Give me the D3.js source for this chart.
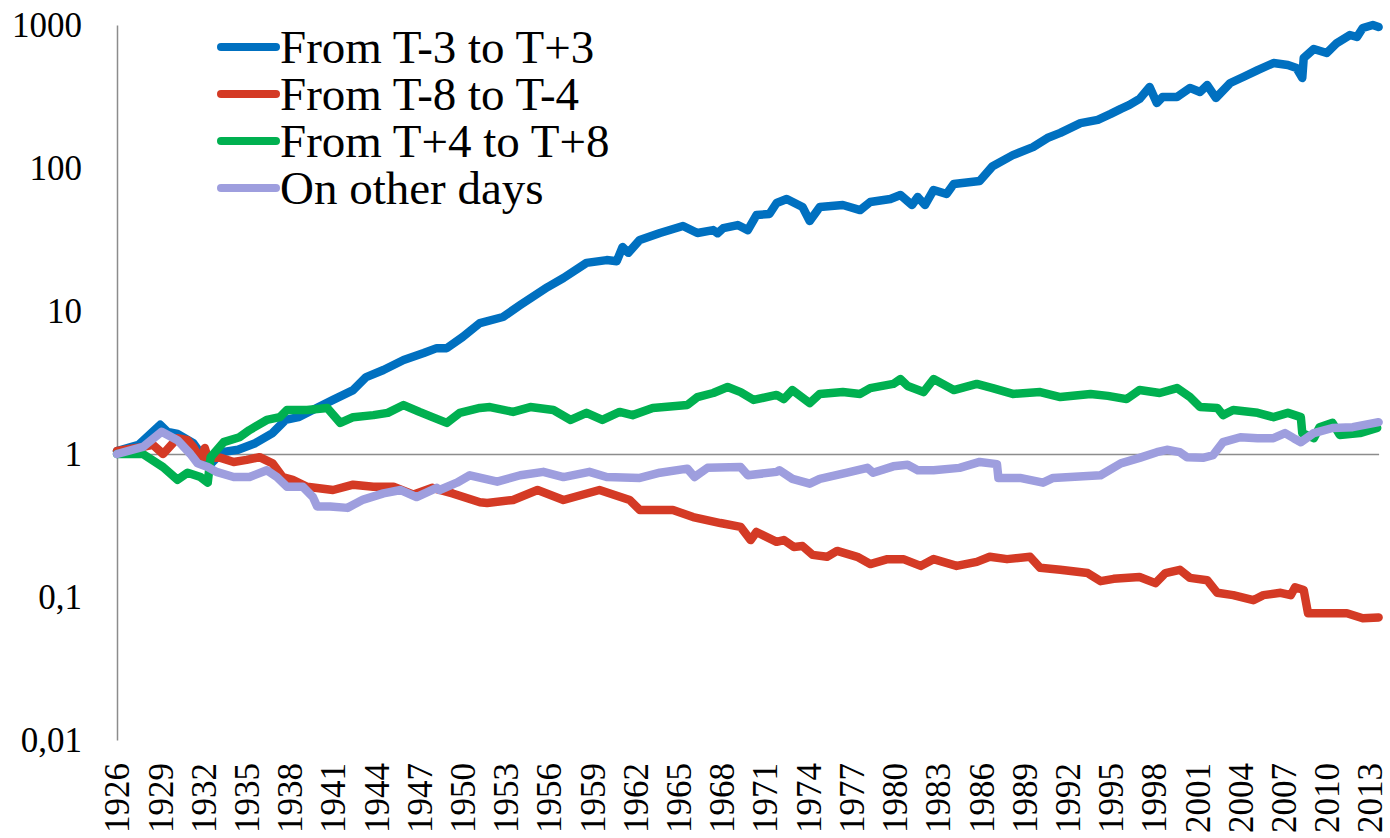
<!DOCTYPE html>
<html>
<head>
<meta charset="utf-8">
<script src="https://cdn.jsdelivr.net/npm/d3@7"></script>
<style>
  body { margin: 0; background: #fff; }
  svg { font-family: "Liberation Serif", "Times New Roman", serif; }
</style>
</head>
<body>
<div id="chart"></div>
<script>
// values (year, cumulative value, log scale)
const seriesNames = ["From T-3 to T+3", "From T-8 to T-4", "From T+4 to T+8", "On other days"];
const seriesColors = ["#0070C0", "#D43A25", "#00B050", "#9E9EDE"];

const fromTm3 = [
  [1926.0, 1.05], [1927.5, 1.16], [1929.0, 1.6], [1929.5, 1.43], [1930.2, 1.38], [1931.3, 1.19],
  [1932.0, 0.95], [1932.5, 0.85], [1933.3, 1.03], [1934.4, 1.07], [1935.6, 1.19], [1936.8, 1.40],
  [1937.7, 1.73], [1938.6, 1.81], [1940.0, 2.13], [1941.0, 2.39], [1942.4, 2.80], [1943.3, 3.45],
  [1944.5, 3.87], [1945.9, 4.54], [1947.3, 5.08], [1948.2, 5.5], [1948.9, 5.5], [1950.0, 6.58],
  [1951.2, 8.24], [1952.8, 9.08], [1954.0, 11.0], [1955.9, 14.7], [1957.0, 17.0], [1958.6, 21.7],
  [1960.0, 22.7], [1960.7, 22.3], [1961.1, 28.0], [1961.5, 25.5], [1962.3, 31.4], [1963.7, 35.1],
  [1965.3, 39.3], [1966.3, 35.1], [1967.4, 36.8], [1967.7, 35.0], [1968.1, 38.0], [1969.1, 39.9],
  [1969.8, 36.8], [1970.4, 46.9], [1971.3, 47.7], [1971.8, 56.9], [1972.5, 60.7], [1973.6, 53.3],
  [1974.1, 42.6], [1974.8, 53.3], [1976.4, 55.1], [1977.6, 50.8], [1978.3, 57.8], [1979.7, 60.7],
  [1980.4, 64.7], [1981.2, 55.1], [1981.6, 62.7], [1982.1, 55.1], [1982.7, 70.2], [1983.6, 65.8],
  [1984.1, 77.3], [1985.9, 81.1], [1986.8, 103], [1988.2, 123], [1989.6, 140], [1990.6, 162],
  [1991.5, 176], [1992.9, 206], [1994.1, 217], [1995.0, 239], [1995.7, 259], [1996.3, 276],
  [1997.0, 304], [1997.7, 368], [1998.2, 285], [1998.6, 314], [1999.6, 314], [2000.5, 363],
  [2001.2, 340], [2001.7, 380], [2002.3, 309], [2003.3, 393], [2004.2, 433], [2005.2, 484],
  [2006.3, 542], [2007.3, 525], [2007.9, 500], [2008.3, 426], [2008.4, 588], [2009.1, 679],
  [2010.0, 637], [2010.7, 748], [2011.6, 851], [2012.1, 824], [2012.5, 953], [2013.2, 1000],
  [2013.6, 968]
];

const fromTm8 = [
  [1926.0, 1.05], [1927.8, 1.12], [1928.5, 1.16], [1929.2, 1.0], [1930.2, 1.29], [1930.9, 1.25],
  [1931.3, 1.12], [1931.8, 0.91], [1932.1, 1.10], [1932.3, 0.94], [1933.2, 0.94], [1934.1, 0.88],
  [1935.0, 0.91], [1935.9, 0.95], [1936.8, 0.86], [1937.5, 0.69], [1938.2, 0.66], [1939.2, 0.59],
  [1941.0, 0.56], [1942.4, 0.61], [1943.8, 0.59], [1945.2, 0.59], [1946.6, 0.52], [1947.9, 0.58],
  [1949.3, 0.53], [1951.2, 0.46], [1951.7, 0.454], [1953.5, 0.477], [1955.2, 0.56], [1957.0, 0.477],
  [1959.5, 0.56], [1961.6, 0.477], [1962.3, 0.406], [1964.6, 0.406], [1966.0, 0.362], [1967.9, 0.329],
  [1969.3, 0.309], [1970.0, 0.25], [1970.4, 0.285], [1971.8, 0.243], [1972.3, 0.25], [1973.0, 0.224],
  [1973.6, 0.227], [1974.3, 0.197], [1975.3, 0.191], [1976.0, 0.21], [1977.4, 0.191], [1978.3, 0.17],
  [1979.5, 0.184], [1980.6, 0.184], [1981.8, 0.165], [1982.7, 0.184], [1984.3, 0.165], [1985.7, 0.176],
  [1986.6, 0.191], [1987.8, 0.184], [1989.4, 0.191], [1990.1, 0.16], [1991.5, 0.155], [1993.4, 0.147],
  [1994.3, 0.129], [1995.2, 0.134], [1997.0, 0.138], [1998.1, 0.125], [1998.8, 0.147], [1999.8, 0.155],
  [2000.5, 0.136], [2001.7, 0.131], [2002.4, 0.107], [2003.5, 0.103], [2004.9, 0.095], [2005.6, 0.103],
  [2006.8, 0.107], [2007.5, 0.103], [2007.8, 0.117], [2008.4, 0.112], [2008.7, 0.077], [2009.5, 0.077],
  [2011.4, 0.077], [2012.5, 0.071], [2013.6, 0.072]
];

const fromTp4 = [
  [1926.0, 1.0], [1927.8, 1.0], [1929.2, 0.81], [1930.2, 0.66], [1930.9, 0.74], [1931.8, 0.69],
  [1932.3, 0.63], [1932.5, 0.95], [1933.4, 1.21], [1934.5, 1.31], [1935.2, 1.47], [1936.4, 1.73],
  [1937.3, 1.81], [1937.8, 2.03], [1939.2, 2.03], [1940.6, 2.10], [1941.5, 1.65], [1942.4, 1.81],
  [1943.8, 1.87], [1944.8, 1.94], [1945.9, 2.20], [1947.0, 1.97], [1947.9, 1.81], [1948.9, 1.65],
  [1949.8, 1.94], [1951.2, 2.10], [1951.9, 2.13], [1953.5, 1.97], [1954.7, 2.13], [1956.3, 2.03],
  [1957.5, 1.73], [1958.6, 1.94], [1959.7, 1.73], [1960.9, 1.97], [1961.8, 1.87], [1963.2, 2.10],
  [1965.6, 2.20], [1966.3, 2.50], [1967.4, 2.67], [1968.4, 2.94], [1969.3, 2.71], [1970.2, 2.39],
  [1971.8, 2.59], [1972.3, 2.42], [1972.9, 2.80], [1974.1, 2.27], [1974.8, 2.63], [1976.4, 2.71],
  [1977.6, 2.63], [1978.3, 2.89], [1979.9, 3.09], [1980.4, 3.34], [1980.9, 2.99], [1982.0, 2.71],
  [1982.7, 3.34], [1984.1, 2.80], [1985.7, 3.09], [1986.8, 2.89], [1988.2, 2.63], [1990.1, 2.71],
  [1991.5, 2.50], [1993.6, 2.63], [1994.8, 2.55], [1996.1, 2.42], [1997.0, 2.80], [1998.4, 2.67],
  [1999.6, 2.89], [2000.5, 2.50], [2001.2, 2.13], [2002.4, 2.10], [2002.8, 1.87], [2003.5, 2.03],
  [2005.2, 1.94], [2006.3, 1.81], [2007.3, 1.94], [2008.2, 1.81], [2008.3, 1.40], [2009.1, 1.29],
  [2009.5, 1.54], [2010.4, 1.65], [2010.9, 1.36], [2012.3, 1.40], [2013.5, 1.52]
];

const otherDays = [
  [1926.0, 1.0], [1927.8, 1.12], [1929.1, 1.43], [1930.2, 1.25], [1931.1, 1.0], [1931.6, 0.86],
  [1932.3, 0.81], [1932.9, 0.75], [1934.1, 0.69], [1935.2, 0.69], [1936.4, 0.77], [1937.1, 0.69],
  [1937.8, 0.59], [1938.9, 0.59], [1939.6, 0.50], [1939.9, 0.43], [1940.8, 0.43], [1942.0, 0.42],
  [1943.1, 0.48], [1944.5, 0.53], [1945.7, 0.56], [1946.8, 0.50], [1948.2, 0.58], [1948.4, 0.56],
  [1949.6, 0.63], [1950.5, 0.71], [1952.4, 0.64], [1954.0, 0.71], [1955.6, 0.75], [1957.0, 0.69],
  [1958.8, 0.75], [1960.0, 0.69], [1962.3, 0.68], [1963.7, 0.74], [1965.6, 0.79], [1966.1, 0.69],
  [1967.0, 0.80], [1969.3, 0.81], [1969.8, 0.71], [1971.8, 0.75], [1972.0, 0.77], [1972.9, 0.67],
  [1974.1, 0.62], [1974.8, 0.67], [1976.7, 0.74], [1978.1, 0.80], [1978.5, 0.74], [1979.9, 0.82],
  [1980.9, 0.84], [1981.6, 0.77], [1982.7, 0.77], [1984.5, 0.80], [1985.9, 0.88], [1987.1, 0.85],
  [1987.2, 0.68], [1988.7, 0.68], [1990.3, 0.63], [1991.0, 0.68], [1993.1, 0.70], [1994.3, 0.71],
  [1995.7, 0.86], [1997.0, 0.94], [1998.2, 1.03], [1998.9, 1.07], [1999.8, 1.03], [2000.3, 0.95],
  [2001.4, 0.94], [2002.1, 0.98], [2002.8, 1.21], [2004.0, 1.31], [2005.2, 1.29], [2006.3, 1.29],
  [2007.1, 1.40], [2007.7, 1.29], [2008.2, 1.21], [2009.1, 1.40], [2010.4, 1.52], [2011.8, 1.54],
  [2013.6, 1.67]
];

const yTicks = [0.01, 0.1, 1, 10, 100, 1000];
const yTickLabels = ["0,01", "0,1", "1", "10", "100", "1000"];
const xTicks = [1926, 1929, 1932, 1935, 1938, 1941, 1944, 1947, 1950, 1953, 1956, 1959, 1962, 1965,
  1968, 1971, 1974, 1977, 1980, 1983, 1986, 1989, 1992, 1995, 1998, 2001, 2004, 2007, 2010, 2013];

const allSeries = [fromTm3, fromTm8, fromTp4, otherDays];

const width = 1390, height = 838;
const svg = d3.select("#chart").append("svg")
    .attr("width", width)
    .attr("height", height);

const x = d3.scaleLinear().domain([1926, 2013.6]).range([117, 1378.6]);
const y = d3.scaleLog().domain([0.01, 1000]).range([740, 25]);

// y axis
const yAxis = svg.append("g")
    .attr("transform", "translate(" + x(1926) + ",0)")
    .call(d3.axisLeft(y).tickValues(yTicks).tickSize(0).tickPadding(35)
        .tickFormat((d, i) => yTickLabels[i]));
yAxis.select(".domain").attr("stroke", "#8c8c8c").attr("stroke-width", 1.5);
yAxis.selectAll("text")
    .attr("font-family", "Liberation Serif, Times New Roman, serif")
    .attr("font-size", 35)
    .attr("fill", "#000");

// horizontal axis line crosses at 1
const xLine = svg.append("g")
    .attr("transform", "translate(0," + y(1) + ")")
    .call(d3.axisBottom(x).tickValues([]).tickSizeOuter(0));
xLine.select(".domain").attr("stroke", "#8c8c8c").attr("stroke-width", 1.5);

// year labels at the bottom
const xAxis = svg.append("g")
    .attr("transform", "translate(0," + y(0.01) + ")")
    .call(d3.axisBottom(x).tickValues(xTicks).tickSize(0).tickFormat(d3.format("d")));
xAxis.select(".domain").remove();
xAxis.selectAll("text")
    .attr("font-family", "Liberation Serif, Times New Roman, serif")
    .attr("font-size", 35)
    .attr("fill", "#000")
    .attr("transform", "rotate(-90)")
    .attr("text-anchor", "end")
    .attr("x", -23)
    .attr("y", 0)
    .attr("dy", "0.34em");

// lines
const line = d3.line()
    .x(d => x(d[0]))
    .y(d => y(d[1]));

svg.selectAll(".series")
    .data(allSeries)
    .enter()
    .append("path")
    .attr("class", "series")
    .attr("d", line)
    .attr("fill", "none")
    .attr("stroke", (d, i) => seriesColors[i])
    .attr("stroke-width", 8.5)
    .attr("stroke-linejoin", "round")
    .attr("stroke-linecap", "round");

// legend
const legend = svg.append("g");
const rowY = d3.scaleLinear().domain([0, 3]).range([47, 188]);
seriesNames.forEach((name, i) => {
    legend.append("line")
        .attr("x1", 221).attr("x2", 276)
        .attr("y1", rowY(i)).attr("y2", rowY(i))
        .attr("stroke", seriesColors[i])
        .attr("stroke-width", 8)
        .attr("stroke-linecap", "round");
    legend.append("text")
        .attr("x", 280)
        .attr("y", rowY(i) + 16)
        .attr("font-size", 47)
        .attr("fill", "#000")
        .text(name);
});
</script>
</body>
</html>
